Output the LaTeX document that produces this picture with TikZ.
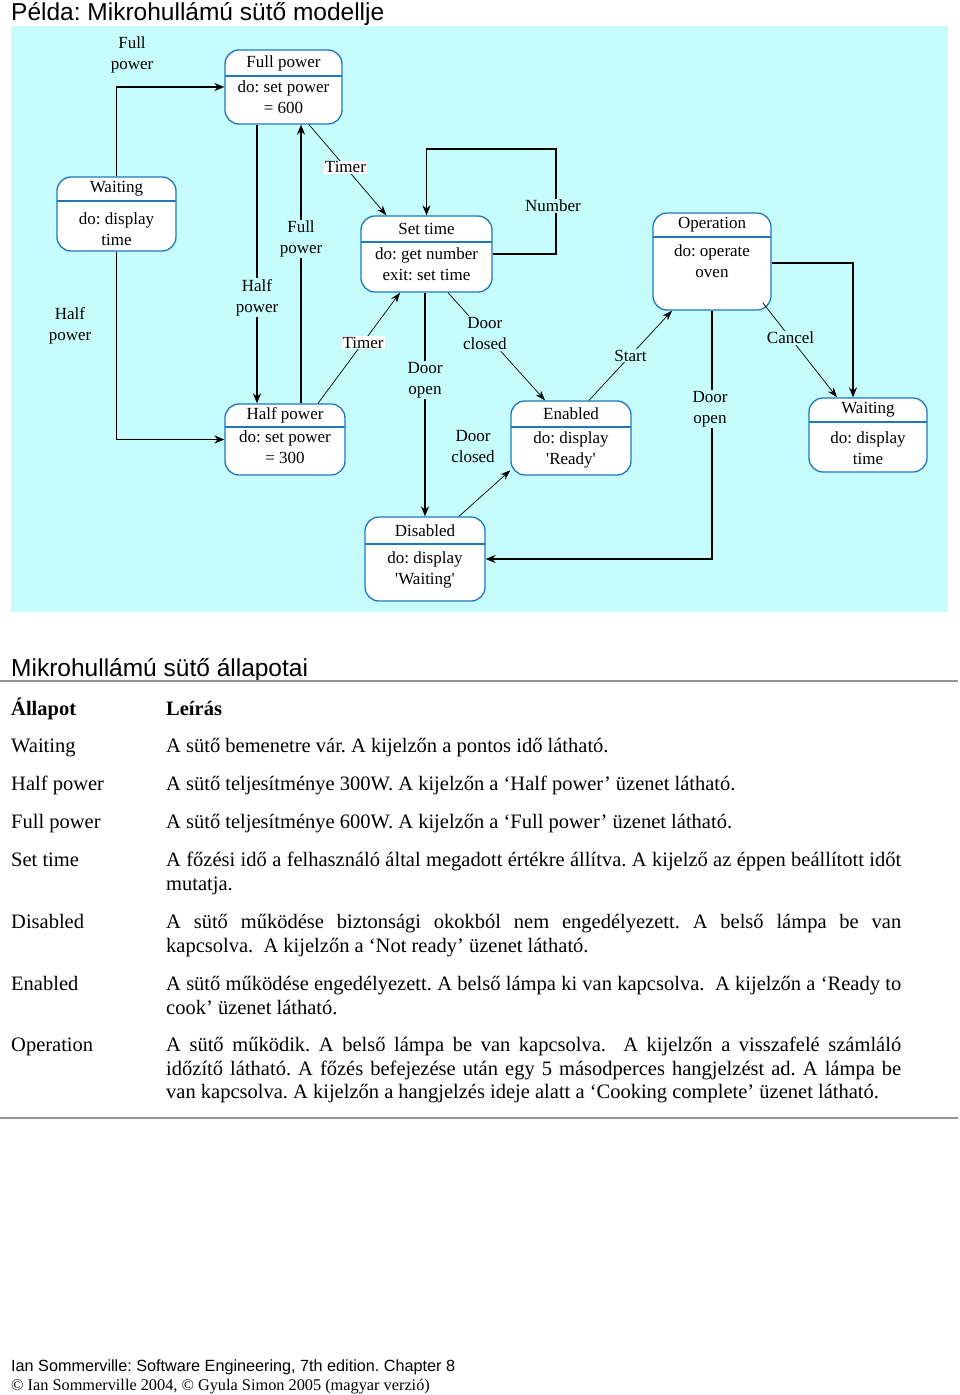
\documentclass[tikz,border=0pt]{standalone}
\usepackage{fontspec}
\setmainfont{Liberation Serif}
\newfontfamily\arialfont{Liberation Sans}
\newfontfamily\diagserif{Liberation Serif}
\usetikzlibrary{arrows.meta}

\definecolor{ovenbg}{RGB}{198,252,252}
\definecolor{stateblue}{RGB}{30,120,190}
\definecolor{rulegray}{RGB}{150,150,150}

\newcommand{\diagfont}{\diagserif\fontsize{17}{21}\selectfont}
\newcommand{\tabfont}{\fontsize{20.5}{24}\selectfont}
\newcommand{\just}[1]{\makebox[735pt][s]{#1}}

% name, x1, y1, x2, y2, divider, title, body, body centre
\newcommand{\ovenstate}[9]{%
  \node[statebox, minimum width={#4-#2}, minimum height={#5-#3}] (#1) at ({(#2+#4)/2},{(#3+#5)/2}) {};
  \draw[statedivider] (#2,#6) -- (#4,#6);
  \node[statetitle] (#1t) at ({(#2+#4)/2},{(#3+#6)/2}) {#7};
  \node[statebody] (#1b) at ({(#2+#4)/2},#9) {#8};
}

\frenchspacing
\begin{document}
\begin{tikzpicture}[x=1pt, y=-1pt,
    statebox/.style={draw=stateblue, line width=1.3pt, fill=white, rounded corners=14pt, inner sep=0pt},
    statedivider/.style={draw=stateblue, line width=1.3pt},
    statetitle/.style={font=\diagfont, inner sep=0pt},
    statebody/.style={font=\diagfont, align=center, inner sep=0pt},
    orth/.style={line width=1.4pt, -{Stealth[length=10pt,width=8pt]}},
    diag/.style={line width=0.7pt, -{Stealth[length=10pt,width=7pt]}},
    trans/.style={font=\diagfont, align=center, fill=ovenbg, inner sep=1pt},
    timerlbl/.style={trans, fill=white},
    heading/.style={font=\arialfont\fontsize{24.5}{28}\selectfont, anchor=base west, inner sep=0pt},
    tabtext/.style={font=\tabfont, anchor=base west, inner sep=0pt}]
\useasboundingbox (0,0) rectangle (960,1395);

\node[heading] (title) at (11,20.5) {Példa: Mikrohullámú sütő modellje};
\fill[ovenbg] (11,26) rectangle (948,612);

% states
\ovenstate{fp}{225}{50}{342}{124}{76}{Full power}{do: set power\\= 600}{97.5}
\ovenstate{wl}{57}{177}{176}{251}{201}{Waiting}{do: display\\time}{229}
\ovenstate{st}{361}{216}{492}{292}{242}{Set time}{do: get number\\exit: set time}{264.5}
\ovenstate{op}{653}{213}{771}{310}{237}{Operation}{do: operate\\oven}{261}
\ovenstate{hp}{225}{404}{345}{475}{427}{Half power}{do: set power\\= 300}{447.5}
\ovenstate{en}{511}{401}{631}{475}{427}{Enabled}{do: display\\'Ready'}{450}
\ovenstate{wr}{809}{398}{927}{472}{422}{Waiting}{do: display\\time}{448}
\ovenstate{di}{365}{517}{485}{601}{544}{Disabled}{do: display\\'Waiting'}{569.5}

% transitions
\draw[orth] (wl.north) |- (fp.west);
\node[trans, fill=none] (lfull) at (132,55) {Full\\power};
\draw[orth] (wl.south) |- (hp.west);
\node[trans, fill=none] (lhalf) at (70,326) {Half\\power};
\draw[orth] ([xshift=-26.5]fp.south) -- node[trans, pos=0.62] (lhalf2) {Half\\power} ([xshift=-28]hp.north);
\draw[orth] ([xshift=16]hp.north) -- node[trans, pos=0.59] (lfull2) {Full\\power} ([xshift=17.5]fp.south);
\draw[diag] ([xshift=25.5]fp.south) -- node[timerlbl, pos=0.47] (ltimer1) {Timer} ([xshift=-40]st.north);
\draw[diag] ([xshift=33]hp.north) -- node[timerlbl, pos=0.55] (ltimer2) {Timer} ([xshift=-26.5]st.south);
\coordinate (numtop) at (556,149);
\draw[orth] (st.east) -| (numtop) -| (st.north);
\node[trans] (lnum) at (553,206) {Number};
\draw[orth] (di.north |- st.south) -- node[trans, pos=0.39] (ldoor1) {Door\\open} (di.north);
\draw[diag] ([xshift=21.5]st.south) -- node[trans, pos=0.38] (lclosed1) {Door\\closed} ([xshift=-26]en.north);
\draw[diag] ([xshift=34]di.north) -- (en.208);
\node[trans, fill=none] (lclosed2) at (473,447) {Door\\closed};
\draw[diag] ([xshift=18]en.north) -- node[trans, pos=0.5] (lstart) {Start} ([xshift=-40]op.south);
\draw[orth] (op.south) |- (di.east);
\node[trans] (ldoor2) at (710,409) {Door\\open};
\draw[diag] ([xshift=-9,yshift=8]op.south east) -- node[trans, pos=0.375] (lcancel) {Cancel} ([xshift=-31]wr.north);
\draw[orth] ([yshift=-1.5]op.east) -| ([xshift=-15]wr.north);

% state table
\node[heading] (subtitle) at (11,676.5) {Mikrohullámú sütő állapotai};
\draw[rulegray, line width=1.5pt] (0,681) -- (958,681);
\node[tabtext, font=\tabfont\bfseries] (hstate) at (11,715) {Állapot};
\node[tabtext, font=\tabfont\bfseries] (hdesc) at (166,715) {Leírás};
\node[tabtext] (swait) at (11,752) {Waiting};
\node[tabtext] (dwait) at (166,752) {A sütő bemenetre vár. A kijelzőn a pontos idő látható.};
\node[tabtext] (shalf) at (11,790) {Half power};
\node[tabtext] (dhalf) at (166,790) {A sütő teljesítménye 300W. A kijelzőn a ‘Half power’ üzenet látható.};
\node[tabtext] (sfull) at (11,828) {Full power};
\node[tabtext] (dfull) at (166,828) {A sütő teljesítménye 600W. A kijelzőn a ‘Full power’ üzenet látható.};
\node[tabtext] (sset) at (11,866) {Set time};
\node[tabtext] (dset) at (166,866) {\just{A főzési idő a felhasználó által megadott értékre állítva. A kijelző az éppen beállított időt}};
\node[tabtext] (dset2) at (166,890) {mutatja.};
\node[tabtext] (sdis) at (11,928) {Disabled};
\node[tabtext] (ddis) at (166,928) {\just{A sütő működése biztonsági okokból nem engedélyezett. A belső lámpa be van}};
\node[tabtext] (ddis2) at (166,952) {kapcsolva.\ \ A kijelzőn a ‘Not ready’ üzenet látható.};
\node[tabtext] (sena) at (11,990) {Enabled};
\node[tabtext] (dena) at (166,990) {\just{A sütő működése engedélyezett. A belső lámpa ki van kapcsolva.\ \ A kijelzőn a ‘Ready to}};
\node[tabtext] (dena2) at (166,1014) {cook’ üzenet látható.};
\node[tabtext] (sope) at (11,1051) {Operation};
\node[tabtext] (dope) at (166,1051) {\just{A sütő működik. A belső lámpa be van kapcsolva.\ \ A kijelzőn a visszafelé számláló}};
\node[tabtext] (dope2) at (166,1075) {\just{időzítő látható. A főzés befejezése után egy 5 másodperces hangjelzést ad. A lámpa be}};
\node[tabtext] (dope3) at (166,1098) {van kapcsolva. A kijelzőn a hangjelzés ideje alatt a ‘Cooking complete’ üzenet látható.};
\draw[rulegray, line width=1.5pt] (0,1118) -- (958,1118);

% footer
\node[tabtext, font=\arialfont\fontsize{16.2}{18}\selectfont] (foot1) at (11,1371) {Ian Sommerville: Software Engineering, 7th edition. Chapter 8};
\node[tabtext, font=\fontsize{16.3}{18}\selectfont] (foot2) at (11,1390) {© Ian Sommerville 2004, © Gyula Simon 2005 (magyar verzió)};
\end{tikzpicture}
\end{document}
